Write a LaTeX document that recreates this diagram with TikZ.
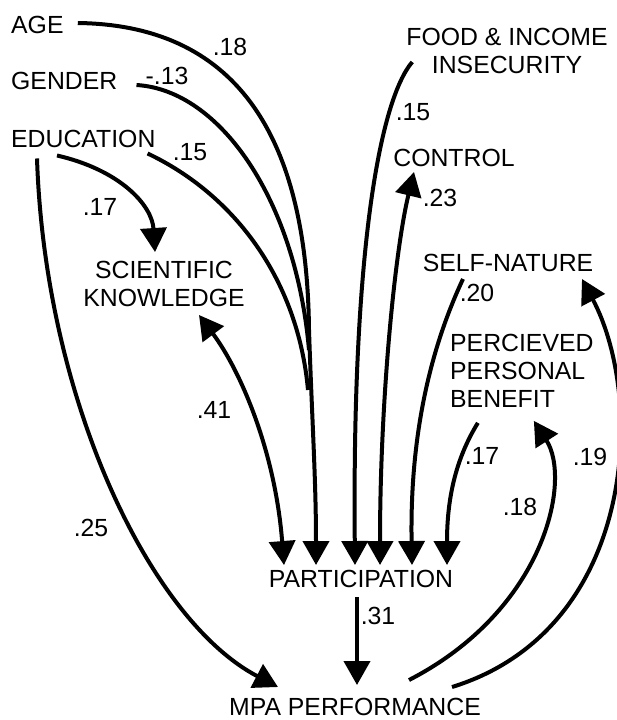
\documentclass[tikz,border=0pt]{standalone}
\usepackage{fontspec}
\setmainfont{Liberation Sans}
\usetikzlibrary{arrows.meta}

\begin{document}
\begin{tikzpicture}[x=1pt, y=-1pt,
    every node/.style={inner sep=0pt, font=\fontsize{24.8}{28}\selectfont},
    var/.style={align=center},
    plain/.style={line width=4pt},
    arr/.style={plain, -{Triangle[length=24pt,width=26pt]}},
    twoarr/.style={plain, {Triangle[length=24pt,width=26pt]}-{Triangle[length=24pt,width=26pt]}}]
  \useasboundingbox (0,0) rectangle (616,720);

  % variables
  \node[anchor=west] (age) at (11,24.5) {AGE};
  \node[anchor=west] (gender) at (11,81) {GENDER};
  \node[anchor=west] (edu) at (11,138.5) {EDUCATION};
  \node[var] (sci) at (164,284) {SCIENTIFIC\\KNOWLEDGE};
  \node[var] (food) at (507,51) {FOOD \& INCOME\\INSECURITY};
  \node (control) at (454,158) {CONTROL};
  \node (self) at (508,263) {SELF-NATURE};
  \node[align=left, anchor=west] (perc) at (450,371) {PERCIEVED\\PERSONAL\\BENEFIT};
  \node (part) at (361,579) {PARTICIPATION};
  \node (mpa) at (355,707) {MPA PERFORMANCE};

  % arrow ends above PARTICIPATION
  \foreach \i/\dx in {1/-77,2/-45,3/-6,4/19,5/51,6/86}
    \coordinate (in\i) at ([xshift=\dx pt,yshift=5pt]part.north);
  \coordinate (jGender) at (309,350);
  \coordinate (jEdu) at (308,390);

  % paths
  \draw[arr] ([xshift=14pt,yshift=1.5pt]age.east) .. controls (232,25) and (307,130) .. (309,330)
    .. controls (312,420) and (316,480) .. (in2);
  \draw[plain] ([xshift=19pt,yshift=-4pt]gender.east) .. controls (220,90) and (296,200) .. (jGender);
  \draw[plain] ([xshift=-8pt,yshift=-6pt]edu.south east) .. controls (235,195) and (298,280) .. (jEdu);
  \draw[arr] ([xshift=46pt,yshift=-8pt]edu.south west) .. controls (120,170) and (152,205) .. ([xshift=-9pt,yshift=9pt]sci.north);
  \draw[arr] ([xshift=26pt,yshift=-11pt]edu.south west) .. controls (45,400) and (150,620) .. ([xshift=-77pt,yshift=11pt]mpa.north);
  \draw[twoarr] ([xshift=35pt,yshift=-8pt]sci.south) .. controls (240,370) and (275,450) .. (in1);
  \draw[arr] ([xshift=6pt,yshift=-11pt]food.west) .. controls (380,100) and (352,250) .. (in3);
  \draw[twoarr] ([xshift=-40pt,yshift=-5pt]control.south) .. controls (395,250) and (380,400) .. (in4);
  \draw[arr] ([xshift=-45pt,yshift=-7pt]self.south) .. controls (425,360) and (410,450) .. (in5);
  \draw[arr] ([xshift=-44pt,yshift=-15pt]perc.south) .. controls (455,460) and (447,500) .. (in6);
  \draw[arr] ([xshift=-4pt,yshift=-9pt]part.south) -- ([xshift=2pt,yshift=13pt]mpa.north);
  \draw[arr] ([xshift=54pt,yshift=18pt]mpa.north) .. controls (545,610) and (572,480) .. ([xshift=12pt,yshift=-13pt]perc.south);
  \draw[arr] ([xshift=97pt,yshift=11pt]mpa.north) .. controls (636,630) and (646,400) .. ([xshift=74pt,yshift=-7pt]self.south);

  % coefficients
  \node (bAge) at (230,47) {.18};
  \node (bGender) at (167,76) {-.13};
  \node (bEdu) at (190,152) {.15};
  \node (bEduSci) at (100,207) {.17};
  \node (bSci) at (214,410) {.41};
  \node (bEduMpa) at (91,528) {.25};
  \node (bFood) at (413,112) {.15};
  \node (bControl) at (440,198) {.23};
  \node (bSelf) at (477,293) {.20};
  \node (bPerc) at (482,456) {.17};
  \node (bMpaPerc) at (520,507) {.18};
  \node (bMpaSelf) at (590,457) {.19};
  \node (bPart) at (378,616) {.31};
\end{tikzpicture}
\end{document}
